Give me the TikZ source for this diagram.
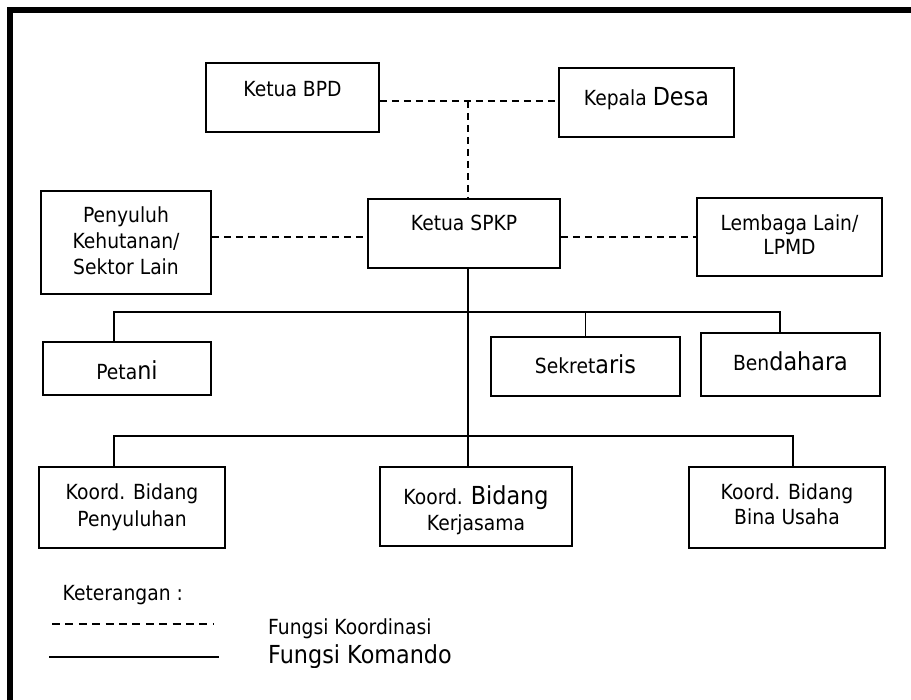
\documentclass[tikz,border=0pt]{standalone}
\usepackage{fontspec}
\setmainfont{DejaVu Sans}[FakeStretch=0.9]
\newcommand\basetxt{\fontsize{20.8}{26}\selectfont}
\newcommand\bigtxt{\fontsize{24.8}{26}\selectfont}
\begin{document}
\begin{tikzpicture}[x=1pt,y=-1pt,
  box/.style={draw, rectangle, line width=1.8pt, inner sep=0pt},
  txt/.style={inner sep=0pt, anchor=base, font=\basetxt},
  coord/.style={line width=1.6pt, dash pattern=on 7pt off 5pt},
  cmd/.style={line width=1.6pt},
  legdash/.style={line width=1.6pt, dash pattern=on 8pt off 5.4pt},
  frame/.style={line width=6pt, line join=miter}]
\useasboundingbox (0,0) rectangle (911,700);
\draw[frame] (10,720) -- (10,10) -- (930,10);

% boxes
\node[box, minimum width=173pt, minimum height=69pt] (bpd) at (292.5,97.5) {};
\node[box, minimum width=175pt, minimum height=69pt] (desa) at (646.5,102.5) {};
\node[box, minimum width=192pt, minimum height=69pt] (spkp) at (464,233.5) {};
\node[box, minimum width=170pt, minimum height=103pt] (peny) at (126,242.5) {};
\node[box, minimum width=185pt, minimum height=78pt] (lemb) at (789.5,237) {};
\node[box, minimum width=168pt, minimum height=53pt] (petani) at (127,368.5) {};
\node[box, minimum width=189pt, minimum height=59pt] (sekr) at (585.5,366.5) {};
\node[box, minimum width=179pt, minimum height=63pt] (bend) at (790.5,364.5) {};
\node[box, minimum width=186pt, minimum height=81pt] (kpeny) at (132,507.5) {};
\node[box, minimum width=192pt, minimum height=79pt] (kkerja) at (476,506.5) {};
\node[box, minimum width=196pt, minimum height=81pt] (kbina) at (787,507.5) {};

% texts
\node[txt] (bpdt) at (292.5,97) {Ketua BPD};
\node[txt] (desat) at (646.5,105.5) {Kepala {\bigtxt Desa}};
\node[txt] (spkpt) at (464,231) {Ketua SPKP};
\node[txt] (penyt1) at (126,222.5) {Penyuluh};
\node[txt] (penyt2) at (126,249) {Kehutanan/};
\node[txt] (penyt3) at (126,275) {Sektor Lain};
\node[txt] (lembt1) at (789.5,230.5) {Lembaga Lain/};
\node[txt] (lembt2) at (789.5,255) {LPMD};
\node[txt] (petanit) at (127,380) {Peta{\bigtxt ni}};
\node[txt] (sekrt) at (585.5,374) {Sekret{\bigtxt aris}};
\node[txt] (bendt) at (790.5,370.5) {Ben{\bigtxt dahara}};
\node[txt] (kpenyt1) at (132,500) {Koord. Bidang};
\node[txt] (kpenyt2) at (132,526) {Penyuluhan};
\node[txt] (kkerjat1) at (476,504) {Koord. {\bigtxt Bidang}};
\node[txt] (kkerjat2) at (476,531) {Kerjasama};
\node[txt] (kbinat1) at (787,500) {Koord. Bidang};
\node[txt] (kbinat2) at (787,525) {Bina Usaha};

% coordination (dashed) connectors
\coordinate (j1) at (468,101);
\coordinate (hy) at (0,237);
\draw[coord] (bpd.east |- j1) -- (desa.west |- j1);
\draw[coord] (j1) -- (j1 |- spkp.north);
\draw[coord] (peny.east |- hy) -- (spkp.west |- hy);
\draw[coord] (spkp.east |- hy) -- (lemb.west |- hy);

% command (solid) connectors
\coordinate (p1) at (114,312);
\coordinate (p2) at (780,312);
\coordinate (q1) at (114,436);
\coordinate (q2) at (793,436);
\coordinate (cx) at (468,436);
\draw[cmd] (spkp.south -| cx) -- (cx |- kkerja.north);
\draw[cmd] (petani.north -| p1) -- (p1) -- (p2) -- (bend.north -| p2);
\draw[cmd] (sekr.north) -- (sekr.north |- p1);
\draw[cmd] (kpeny.north -| q1) -- (q1) -- (q2) -- (kbina.north -| q2);

% legend
\node[txt, anchor=base west] (ket) at (62.5,600.5) {Keterangan :};
\coordinate (l1a) at (52,624);
\coordinate (l1b) at (213,624);
\coordinate (l2a) at (49,657);
\coordinate (l2b) at (219,657);
\draw[legdash] (l1a) -- (l1b);
\draw[cmd] (l2a) -- (l2b);
\node[txt, anchor=base west] (fkoord) at (268,634) {Fungsi Koordinasi};
\begin{scope}
\clip (0,600) rectangle (911,667);
\node[txt, anchor=base west, font=\bigtxt] (fkom) at (268,663) {Fungsi Komando};
\end{scope}
\end{tikzpicture}
\end{document}
